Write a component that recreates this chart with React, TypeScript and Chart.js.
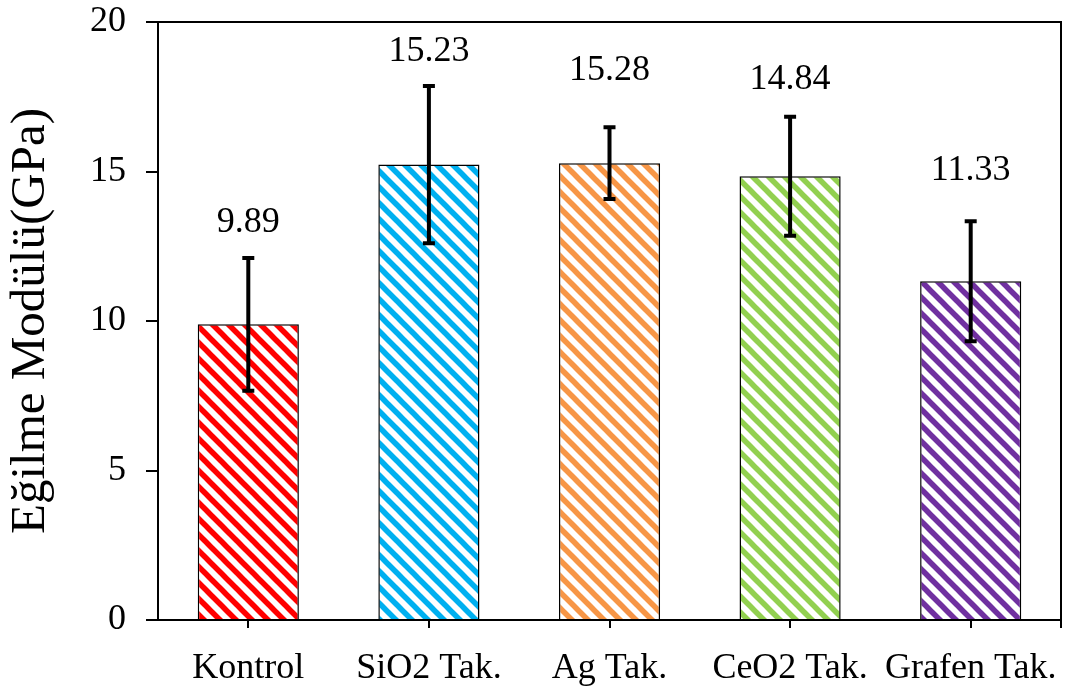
import React, { useEffect, useRef } from "react";
import { Chart, registerables } from "chart.js";

Chart.register(...registerables);

const categories = ["Kontrol", "SiO2 Tak.", "Ag Tak.", "CeO2 Tak.", "Grafen Tak."];
const values = [9.89, 15.23, 15.28, 14.84, 11.33];
const errors = [2.22, 2.63, 1.2, 1.99, 2.01];
const valueLabels = ["9.89", "15.23", "15.28", "14.84", "11.33"];
const labelAnchors = [13.28, 19.02, 18.38, 18.06, 15.03];
const yTicks = [0, 5, 10, 15, 20];
const colors = ["#FF0000", "#00B0F0", "#F79646", "#92D050", "#7030A0"];

const FONT = "'Liberation Serif', 'Times New Roman', serif";

function makePattern(color: string): CanvasPattern | string {
  const p = 16;
  const c = document.createElement("canvas");
  c.width = p;
  c.height = p;
  const ctx = c.getContext("2d");
  if (!ctx) return color;
  ctx.fillStyle = "#FFFFFF";
  ctx.fillRect(0, 0, p, p);
  ctx.strokeStyle = color;
  ctx.lineWidth = 5.5;
  for (const off of [-p, 0, p]) {
    ctx.beginPath();
    ctx.moveTo(-2, off - 2);
    ctx.lineTo(p + 2, p + off + 2);
    ctx.stroke();
  }
  const pat = ctx.createPattern(c, "repeat");
  return pat || color;
}

const overlayPlugin = {
  id: "overlay",
  afterDatasetsDraw(chart: any) {
    const { ctx, chartArea, scales } = chart;
    const ys = scales.y;
    ctx.save();
    ctx.strokeStyle = "#000";
    ctx.lineWidth = 2;
    ctx.beginPath();
    ctx.moveTo(chartArea.left, chartArea.top);
    ctx.lineTo(chartArea.right, chartArea.top);
    ctx.lineTo(chartArea.right, chartArea.bottom + 8);
    ctx.stroke();
    const meta = chart.getDatasetMeta(0);
    ctx.lineWidth = 4;
    ctx.lineCap = "butt";
    values.forEach((v, i) => {
      const x = meta.data[i].x;
      const yt = ys.getPixelForValue(v + errors[i]);
      const yb = ys.getPixelForValue(v - errors[i]);
      ctx.beginPath();
      ctx.moveTo(x, yt);
      ctx.lineTo(x, yb);
      ctx.moveTo(x - 6, yt);
      ctx.lineTo(x + 6, yt);
      ctx.moveTo(x - 6, yb);
      ctx.lineTo(x + 6, yb);
      ctx.stroke();
    });
    ctx.fillStyle = "#000";
    ctx.font = `36px ${FONT}`;
    ctx.textAlign = "center";
    ctx.textBaseline = "middle";
    valueLabels.forEach((t, i) => {
      const x = meta.data[i].x;
      const y = ys.getPixelForValue(labelAnchors[i]);
      ctx.fillText(t, x, y);
    });
    ctx.restore();
  },
};

export default function App() {
  const ref = useRef<HTMLCanvasElement | null>(null);
  useEffect(() => {
    if (!ref.current) return;
    const chart = new Chart(ref.current, {
      type: "bar",
      data: {
        labels: categories,
        datasets: [
          {
            data: values,
            backgroundColor: colors.map(makePattern) as any,
            borderColor: "#000",
            borderWidth: 1.5,
            categoryPercentage: 1,
            barPercentage: 0.56,
          },
        ],
      },
      options: {
        responsive: false,
        animation: false,
        layout: { padding: { top: 22, right: 9, left: 0, bottom: 0 } },
        plugins: { legend: { display: false }, tooltip: { enabled: false } },
        scales: {
          x: {
            grid: {
              display: true,
              offset: false,
              drawOnChartArea: false,
              drawTicks: true,
              tickLength: 8,
              color: "#000",
              lineWidth: 2,
            },
            border: { display: true, color: "#000", width: 2 },
            ticks: {
              color: "#000",
              font: { family: FONT, size: 36 },
              padding: 19,
              maxRotation: 0,
              autoSkip: false,
            },
            afterFit: (s: any) => {
              s.height = 71;
              s.paddingLeft = 0;
              s.paddingRight = 0;
            },
          },
          y: {
            min: 0,
            max: 20,
            afterBuildTicks: (s: any) => {
              s.ticks = yTicks.map((v) => ({ value: v }));
            },
            grid: {
              display: true,
              drawOnChartArea: false,
              drawTicks: true,
              tickLength: 12,
              color: "#000",
              lineWidth: 2,
            },
            border: { display: true, color: "#000", width: 2 },
            ticks: {
              color: "#000",
              font: { family: FONT, size: 36 },
              padding: 20,
            },
            title: {
              display: true,
              text: "Eğilme Modülü(GPa)",
              color: "#000",
              font: { family: FONT, size: 49, weight: "normal" },
              padding: { top: 2, bottom: 0 },
            },
            afterFit: (s: any) => {
              s.width = 158;
              s.paddingTop = 0;
              s.paddingBottom = 0;
            },
          },
        },
      },
      plugins: [overlayPlugin],
    });
    return () => chart.destroy();
  }, []);
  return (
    <div style={{ position: "fixed", left: 0, top: 0, width: 1070, height: 691, background: "#fff" }}>
      <canvas ref={ref} width={1070} height={691} style={{ width: 1070, height: 691, display: "block" }} />
    </div>
  );
}
